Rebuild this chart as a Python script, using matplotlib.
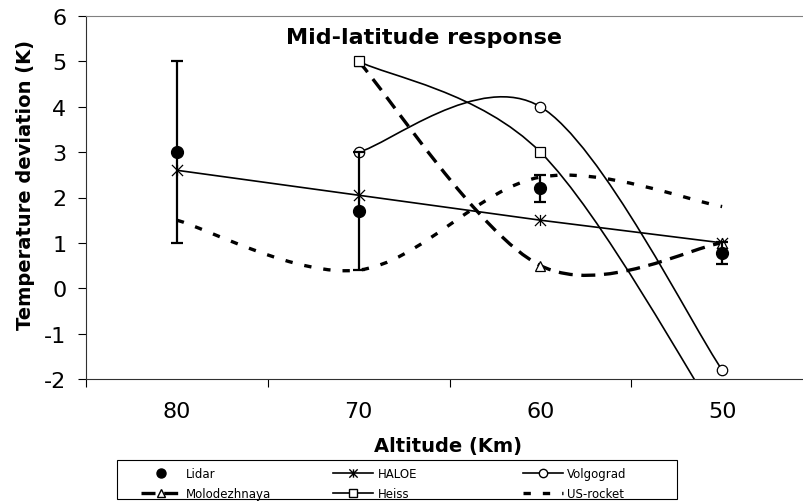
import numpy as np
import matplotlib
matplotlib.use('Agg')
import matplotlib.pyplot as plt
from matplotlib.path import Path
from matplotlib.patches import PathPatch, Rectangle
from matplotlib.lines import Line2D

altitudes = [80, 70, 60, 50]

lidar = [3.0, 1.7, 2.2, 0.78]
lidar_err = [2.0, 1.3, 0.3, 0.25]
haloe = [2.6, 2.05, 1.5, 1.0]
volgograd_alt = [70, 60, 50]
volgograd = [3.0, 4.0, -1.8]
molod_alt = [70, 60, 50]
molodezhnaya = [5.0, 0.5, 1.0]
heiss_alt = [70, 60, 50]
heiss = [5.0, 3.0, -3.0]
usrocket = [1.5, 0.4, 2.45, 1.8]

plt.rcParams['font.family'] = 'DejaVu Sans'

LONG_DASH = (0, (4.2, 2.6))
SHORT_DASH = (0, (2.2, 3.6))


def smooth_path(xs, ys):
    # excel style smoothed line: bezier segments through the points
    p = np.column_stack([xs, ys]).astype(float)
    n = len(p)
    verts = [p[0]]
    codes = [Path.MOVETO]
    for i in range(n - 1):
        p0 = p[i - 1] if i > 0 else p[i]
        p1, p2 = p[i], p[i + 1]
        p3 = p[i + 2] if i + 2 < n else p[i + 1]
        verts += [p1 + (p2 - p0) / 6, p2 - (p3 - p1) / 6, p2]
        codes += [Path.CURVE4] * 3
    return Path(verts, codes)


def star_marker():
    v = [(0, -1), (0, 1), (-1, -1), (1, 1), (-1, 1), (1, -1)]
    c = [Path.MOVETO, Path.LINETO] * 3
    return Path(v, c)


star = star_marker()

fig = plt.figure(figsize=(8.04, 5.02), dpi=100)
ax = fig.add_axes([86 / 804, 122 / 502, 727 / 804, 363 / 502])

ax.set_xlim(85, 45)
ax.set_ylim(-2, 6)

# lidar with error bars
ax.errorbar(altitudes, lidar, yerr=lidar_err, fmt='o', color='black',
            ms=8.5, elinewidth=1.6, capsize=4, capthick=1.6, zorder=5)

# haloe straight line
ax.plot(altitudes, haloe, color='black', lw=1.2, marker=star, ms=8,
        mew=0.9, zorder=4)

# volgograd
ax.add_patch(PathPatch(smooth_path(volgograd_alt, volgograd), fill=False,
                       lw=1.2, ec='black', zorder=3))
ax.plot(volgograd_alt, volgograd, ls='none', marker='o', ms=7.5,
        mfc='white', mec='black', mew=0.9, zorder=4)

# molodezhnaya
ax.add_patch(PathPatch(smooth_path(molod_alt, molodezhnaya), fill=False,
                       lw=2.4, ec='black', ls=LONG_DASH, zorder=3))
ax.plot(molod_alt, molodezhnaya, ls='none', marker='^', ms=7.5,
        mfc='white', mec='black', mew=0.9, zorder=4)

# heiss
ax.add_patch(PathPatch(smooth_path(heiss_alt, heiss), fill=False,
                       lw=1.2, ec='black', zorder=3))
ax.plot(heiss_alt, heiss, ls='none', marker='s', ms=7,
        mfc='white', mec='black', mew=0.9, zorder=4)

# us-rocket
ax.add_patch(PathPatch(smooth_path(altitudes, usrocket), fill=False,
                       lw=2.4, ec='black', ls=SHORT_DASH, zorder=3))

# axes styling
ax.spines['right'].set_visible(False)
ax.spines['top'].set_color('#808080')
ax.spines['left'].set_color('#303030')
ax.spines['bottom'].set_color('#303030')

ax.set_yticks(range(-2, 7))
ax.set_yticklabels([str(v) for v in range(-2, 7)], fontsize=16)
ax.tick_params(axis='y', length=6, width=0.8, pad=8)

ax.set_xticks([85, 75, 65, 55, 45])
ax.set_xticklabels([])
ax.tick_params(axis='x', which='major', length=6, width=0.8)
ax.set_xticks(altitudes, minor=True)
ax.set_xticklabels([str(a) for a in altitudes], minor=True, fontsize=16)
ax.tick_params(axis='x', which='minor', length=0, pad=16)

fig.text(424 / 804, 1 - 38 / 502, 'Mid-latitude response', ha='center',
         va='center', fontsize=16, fontweight='bold')
fig.text(448 / 804, 1 - 447 / 502, 'Altitude (Km)', ha='center',
         va='center', fontsize=14, fontweight='bold')
fig.text(26 / 804, 1 - 185 / 502, 'Temperature deviation (K)', ha='center',
         va='center', rotation=90, fontsize=14, fontweight='bold')

# legend: frame plus three columns
fig.patches.append(Rectangle((117 / 804, 2 / 502), 560 / 804, 39 / 502,
                             transform=fig.transFigure, fill=False,
                             ec='black', lw=0.8))

columns = [
    ([Line2D([], [], ls='none', marker='o', color='black', ms=6.5),
      Line2D([], [], color='black', lw=2.4, ls=LONG_DASH, marker='^',
             ms=6, mfc='white', mec='black')],
     ['Lidar', 'Molodezhnaya'], 185),
    ([Line2D([], [], color='black', lw=1.2, marker=star, ms=6),
      Line2D([], [], color='black', lw=1.2, marker='s', ms=6, mfc='white')],
     ['HALOE', 'Heiss'], 377),
    ([Line2D([], [], color='black', lw=1.2, marker='o', ms=6, mfc='white'),
      Line2D([], [], color='black', lw=2.4, ls=SHORT_DASH)],
     ['Volgograd', 'US-rocket'], 567),
]
for hs, labs, xtext in columns:
    leg = fig.legend(hs, labs, loc='upper left',
                     bbox_to_anchor=((xtext - 44) / 804, 1 - 468 / 502),
                     fontsize=8.5, frameon=False, borderpad=0,
                     handlelength=3.4, handletextpad=0.36,
                     labelspacing=0.6, borderaxespad=0)

fig.savefig('out.png', dpi=100)
